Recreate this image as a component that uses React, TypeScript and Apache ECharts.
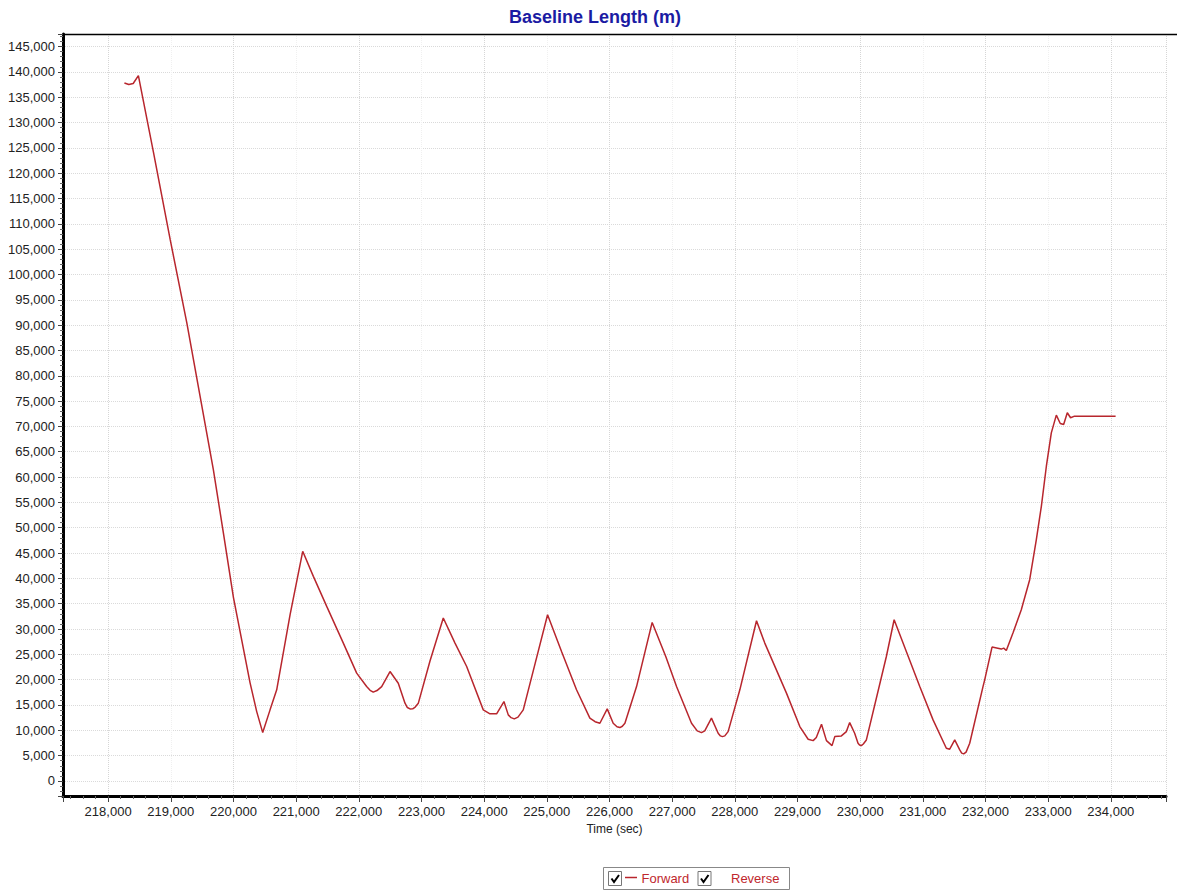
import React, { useEffect, useRef } from "react";
import * as echarts from "echarts";

// Time (sec)
const times: number[] = [
  218260, 218330, 218400, 218483, 218723, 218989, 219255, 219467, 219679, 219839,
  220000, 220265, 220371, 220467, 220584, 220690, 220903, 221105, 221275, 221488,
  221753, 221966, 222125, 222180, 222231, 222290, 222365, 222498, 222630, 222737,
  222775, 222817, 222860, 222900, 222950, 223136, 223348, 223535, 223721, 223986,
  224093, 224199, 224316, 224385, 224430, 224481, 224540, 224624, 224815, 225012,
  225235, 225474, 225687, 225770, 225847, 225964, 226059, 226120, 226166, 226205,
  226246, 226432, 226681, 226898, 227070, 227309, 227400, 227468, 227520, 227627,
  227734, 227770, 227803, 227840, 227893, 228080, 228346, 228478, 228824, 229037,
  229170, 229250, 229300, 229383, 229462, 229551, 229595, 229700, 229780, 229833,
  229912, 229966, 229990, 230019, 230050, 230099, 230418, 230542, 230951, 231163,
  231375, 231429, 231509, 231589, 231620, 231652, 231690, 231748, 231960, 231987,
  232104, 232252, 232290, 232332, 232438, 232571, 232705, 232811, 232891, 232971,
  233050, 233130, 233193, 233247, 233305, 233357, 233421, 234076,
];

// Baseline length (m), Forward
const lengths: number[] = [
  137800, 137500, 137700, 139240, 124150, 106960, 90490, 75980, 61480, 49000,
  36200, 19370, 13700, 9550, 14040, 18000, 32800, 45340, 40400, 34460,
  27220, 21290, 18640, 17900, 17530, 17850, 18640, 21610, 19300, 15360,
  14500, 14230, 14250, 14600, 15360, 23700, 32170, 27220, 22600, 14040,
  13250, 13250, 15680, 13050, 12500, 12260, 12600, 14040, 23270, 32820,
  25560, 18000, 12400, 11700, 11400, 14230, 11400, 10700, 10540, 10800,
  11400, 18640, 31300, 24570, 18640, 11400, 9900, 9550, 9900, 12400,
  9430, 8900, 8760, 8900, 9750, 18000, 31630, 27220, 17340, 10740,
  8240, 7970, 8600, 11200, 7970, 6980, 8760, 8900, 9750, 11530,
  9430, 7450, 7100, 6980, 7300, 8100, 24570, 31830, 18640, 12060,
  6460, 6270, 8100, 6130, 5500, 5340, 5700, 7450, 18640, 19970,
  26430, 26040, 26230, 25760, 29200, 33800, 39740, 47650, 54230, 62140,
  68730, 72230, 70580, 70380, 72700, 71710, 72020, 72020,
];

const titleText = "Baseline Length (m)";
const xName = "Time (sec)";
const legendNames = ["Forward", "Reverse"];

const FONT = "'Liberation Sans', Arial, Helvetica, sans-serif";
const RED = "#b8262d";

export default function App() {
  const ref = useRef<HTMLDivElement>(null);

  useEffect(() => {
    if (!ref.current) return;
    const chart = echarts.init(ref.current, null, { renderer: "svg" });
    const data = times.map((t, i) => [t, lengths[i]]);

    const checkbox = (x: number, y: number) => [
      {
        type: "rect",
        shape: { x, y, width: 13, height: 14 },
        style: { fill: "#fff", stroke: "#777", lineWidth: 1 },
      },
      {
        type: "polyline",
        shape: { points: [[x + 3, y + 7], [x + 5.5, y + 10.5], [x + 10.5, y + 3.5]] },
        style: { fill: "none", stroke: "#000", lineWidth: 2 },
      },
    ];

    chart.setOption({
      animation: false,
      backgroundColor: "#ffffff",
      title: {
        text: titleText,
        left: 504,
        top: 3,
        textStyle: { color: "#1b1ba3", fontSize: 18, fontWeight: "bold", fontFamily: FONT },
      },
      grid: { left: 63, right: 11, top: 34, bottom: 96, containLabel: false },
      xAxis: [
        {
          type: "value",
          min: 217280,
          max: 234880,
          minInterval: 1000,
          maxInterval: 1000,
          position: "bottom",
          name: xName,
          nameLocation: "middle",
          nameGap: 25,
          nameTextStyle: { fontSize: 12, color: "#222", fontFamily: FONT },
          axisLine: { show: true, onZero: false, lineStyle: { color: "#000", width: 3 } },
          axisTick: { show: true, length: 6, lineStyle: { color: "#444", width: 1 } },
          minorTick: { show: true, splitNumber: 5, length: 3, lineStyle: { color: "#666", width: 1 } },
          axisLabel: {
            showMinLabel: false,
            showMaxLabel: false,
            color: "#222",
            fontSize: 13,
            fontFamily: FONT,
            margin: 9,
          },
          splitLine: { show: true, lineStyle: { color: "#f0f0f0", type: "dotted", width: 1 } },
        },
        {
          type: "value",
          min: 217280,
          max: 234880,
          minInterval: 2000,
          maxInterval: 2000,
          position: "top",
          axisLine: { show: false },
          axisTick: { show: false },
          axisLabel: { show: false },
          splitLine: { show: true, lineStyle: { color: "#d6d6d6", type: "dotted", width: 1 } },
        },
      ],
      yAxis: {
        type: "value",
        min: -2966,
        max: 147470,
        minInterval: 5000,
        maxInterval: 5000,
        axisLine: { show: true, onZero: false, lineStyle: { color: "#000", width: 3 } },
        axisTick: { show: true, length: 5, lineStyle: { color: "#444", width: 1 } },
        minorTick: { show: true, splitNumber: 5, length: 3, lineStyle: { color: "#666", width: 1 } },
        axisLabel: {
          showMinLabel: false,
          showMaxLabel: false,
          color: "#222",
          fontSize: 13,
          fontFamily: FONT,
          margin: 8,
        },
        splitLine: { show: true, lineStyle: { color: "#dadada", type: "dotted", width: 1 } },
      },
      series: [
        {
          name: legendNames[0],
          type: "line",
          xAxisIndex: 0,
          data,
          showSymbol: false,
          symbol: "none",
          lineStyle: { color: RED, width: 1.5 },
          itemStyle: { color: RED },
        },
      ],
      graphic: [
        {
          type: "line",
          shape: { x1: 63, y1: 34.5, x2: 1177, y2: 34.5 },
          style: { stroke: "#000", lineWidth: 1.5 },
          z: 100,
        },
        {
          type: "rect",
          shape: { x: 603.5, y: 867.5, width: 186, height: 22 },
          style: { fill: "#fff", stroke: "#888", lineWidth: 1 },
        },
        ...checkbox(608.5, 871.5),
        {
          type: "line",
          shape: { x1: 625, y1: 877.5, x2: 637, y2: 877.5 },
          style: { stroke: RED, lineWidth: 1.5 },
        },
        {
          type: "text",
          x: 641.5,
          y: 878,
          style: {
            text: legendNames[0],
            fill: "#c0272d",
            font: `13px ${FONT}`,
            verticalAlign: "middle",
            align: "left",
          },
        },
        ...checkbox(698, 871.5),
        {
          type: "text",
          x: 731,
          y: 878,
          style: {
            text: legendNames[1],
            fill: "#c0272d",
            font: `13px ${FONT}`,
            verticalAlign: "middle",
            align: "left",
          },
        },
      ],
    });

    return () => chart.dispose();
  }, []);

  return (
    <div
      ref={ref}
      style={{ position: "fixed", left: 0, top: 0, width: 1177, height: 892, background: "#fff" }}
    />
  );
}
